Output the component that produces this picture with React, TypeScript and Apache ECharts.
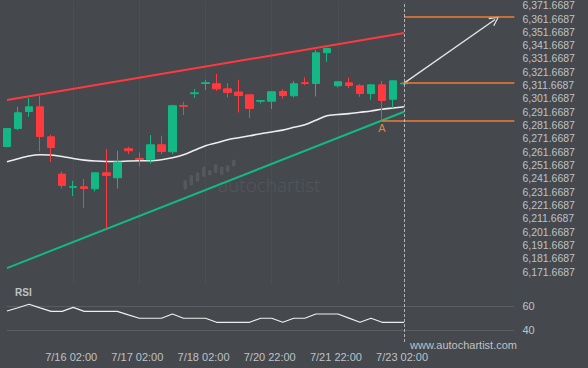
import React, { useEffect, useRef } from 'react';
import * as echarts from 'echarts';

// ---- data ----
const opens = [6265.6, 6279.1, 6291.9, 6295.4, 6272.9, 6244.9, 6235.0, 6235.4, 6233.9, 6245.9, 6242.1, 6263.9, 6256.6, 6255.7, 6266.9, 6261.7, 6296.4, 6305.3, 6312.9, 6312.7, 6308.9, 6306.5, 6304.4, 6299.6, 6299.6, 6306.9, 6303.7, 6313.5, 6312.9, 6336.0, 6311.2, 6313.4, 6311.2, 6305.4, 6311.9, 6301.1, 6312.6];
const closes = [6279.1, 6290.9, 6295.4, 6273.1, 6264.9, 6236.4, 6235.5, 6234.1, 6245.9, 6243.9, 6253.9, 6262.4, 6255.9, 6266.9, 6261.9, 6296.2, 6295.8, 6305.9, 6313.5, 6308.9, 6306.2, 6303.9, 6294.2, 6300.1, 6306.7, 6303.9, 6312.7, 6312.9, 6335.9, 6339.2, 6314.2, 6311.4, 6305.4, 6311.9, 6300.2, 6314.9, 6313.2];
const lows = [6265.0, 6277.9, 6287.9, 6261.9, 6253.9, 6234.1, 6228.4, 6219.4, 6231.9, 6204.1, 6234.1, 6259.9, 6250.6, 6252.9, 6259.9, 6259.9, 6289.2, 6302.0, 6308.0, 6307.4, 6302.4, 6291.2, 6287.0, 6297.9, 6293.7, 6301.7, 6302.4, 6311.7, 6303.2, 6329.2, 6309.9, 6309.5, 6302.9, 6300.7, 6285.6, 6294.5, 6311.9];
const highs = [6279.6, 6295.4, 6302.0, 6303.7, 6274.4, 6246.9, 6239.9, 6241.2, 6245.9, 6263.7, 6262.4, 6265.4, 6261.1, 6274.2, 6273.7, 6296.9, 6299.2, 6308.7, 6315.7, 6320.0, 6313.2, 6315.7, 6304.4, 6300.3, 6306.9, 6308.7, 6314.9, 6317.4, 6338.0, 6339.7, 6314.4, 6317.4, 6312.5, 6312.3, 6314.9, 6315.2, 6313.8];
const maValues = [6254.1, 6256.4, 6258.5, 6259.4, 6259.2, 6258.1, 6256.6, 6255.4, 6254.7, 6254.4, 6254.4, 6254.7, 6254.9, 6254.9, 6255.7, 6257.2, 6259.4, 6262.8, 6266.2, 6268.4, 6270.7, 6272.2, 6273.7, 6275.2, 6276.5, 6277.9, 6280.0, 6281.9, 6285.3, 6288.7, 6289.6, 6290.3, 6291.3, 6292.3, 6293.6, 6294.5, 6295.4];
const rsiValues = [55.9, 58.6, 61.4, 58.4, 55.6, 55.6, 58.9, 55.6, 55.6, 55.6, 55.6, 52.7, 49.9, 49.9, 49.9, 53.4, 49.9, 49.9, 49.9, 46.6, 46.6, 46.6, 46.6, 49.9, 49.9, 46.6, 49.9, 49.9, 53.4, 53.4, 53.4, 50.0, 46.6, 49.9, 46.6, 46.6, 46.6];
const tickIndices = [6, 12, 18, 24, 30, 36];
const tickLabels = ['7/16 02:00', '7/17 02:00', '7/18 02:00', '7/20 22:00', '7/21 22:00', '7/23 02:00'];
const upperTrend = [[0, 6300.45], [36, 6350.73]];
const lowerTrend = [[0, 6174.37], [36, 6291.67]];
const levelA = 6285.0;
const levelCurrent = 6313.2;
const levelTarget = 6362.7;
const pointAIndex = 34;
const lastIndex = 36;
const futureIndex = 46;
const arrowEnd = [44.25, 6361.0];
const rsiLevels = [40, 60];

const BG = '#45484d';
const GREEN = '#13b885';
const RED = '#ff3a3f';
const ORANGE = '#f27b35';
const TEXT = '#bfc2c6';
const FONT = '"Liberation Sans", Arial, sans-serif';

const fmtPrice = (v: number) => {
  const snapped = Math.round((v - 1.6687) / 10) * 10 + 1.6687;
  return snapped.toLocaleString('en-US', { minimumFractionDigits: 4, maximumFractionDigits: 4 });
};

const CHEVRON = 'path://M0,10 L5,0 L10,10 L8.8,10.6 L5,2.6 L1.2,10.6 Z';

export default function App() {
  const ref = useRef<HTMLDivElement>(null);
  useEffect(() => {
    if (!ref.current) return;
    const chart = echarts.init(ref.current, undefined, { renderer: 'svg' });
    const gridLine = 'rgba(255,255,255,0.035)';
    const option: any = {
      animation: false,
      backgroundColor: BG,
      textStyle: { fontFamily: FONT },
      grid: [
        { left: 7, top: 0.8, width: 507.4, height: 284.2, containLabel: false, outerBoundsMode: 'none' },
        { left: 7, top: 293.85, width: 507.4, height: 48.6, containLabel: false, outerBoundsMode: 'none' },
      ],
      xAxis: [
        {
          type: 'value', gridIndex: 0, min: 0, max: futureIndex, interval: 6,
          axisLine: { show: false }, axisTick: { show: false }, axisLabel: { show: false },
          splitLine: { show: true, lineStyle: { width: 1, color: ['transparent', gridLine, gridLine, gridLine, gridLine, gridLine, gridLine, 'transparent', 'transparent'] } },
        },
        {
          type: 'value', gridIndex: 1, min: 0, max: futureIndex, interval: 6,
          axisLine: { show: false }, axisTick: { show: false }, splitLine: { show: false },
          axisLabel: {
            color: TEXT, fontSize: 11, fontFamily: FONT, margin: 9, padding: [0, 4, 0, 0],
            formatter: (v: number) => {
              const k = tickIndices.indexOf(Math.round(v));
              return k >= 0 ? tickLabels[k] : '';
            },
          },
        },
      ],
      yAxis: [
        {
          type: 'value', gridIndex: 0, position: 'right', min: 6161.6687, max: 6374.971, interval: 10,
          axisLine: { show: false }, axisTick: { show: false }, splitLine: { show: false },
          axisLabel: { showMinLabel: false, showMaxLabel: false, margin: 8, color: TEXT, fontSize: 10.5, lineHeight: 11, fontFamily: FONT, padding: [2.4, 0, 0, 0], formatter: fmtPrice },
        },
        {
          type: 'value', gridIndex: 1, position: 'right', min: 30, max: 70, interval: 10,
          axisLine: { show: false }, axisTick: { show: false },
          splitLine: { show: true, lineStyle: { width: 1, color: ['transparent', '#5a5d62', 'transparent', '#5a5d62', 'transparent'] } },
          axisLabel: {
            margin: 8, color: TEXT, fontSize: 11, fontFamily: FONT,
            formatter: (v: number) => (rsiLevels.indexOf(Math.round(v)) >= 0 ? String(Math.round(v)) : ''),
          },
        },
      ],
      series: [
        {
          type: 'line', xAxisIndex: 0, yAxisIndex: 0, data: upperTrend, symbol: 'none', silent: true, z: 2,
          lineStyle: { color: RED, width: 2 },
        },
        {
          type: 'line', xAxisIndex: 0, yAxisIndex: 0, data: lowerTrend, symbol: 'none', silent: true, z: 2,
          lineStyle: { color: GREEN, width: 2 },
        },
        {
          type: 'line', xAxisIndex: 0, yAxisIndex: 0, data: maValues.map((v, i) => [i, v]), symbol: 'none', silent: true, z: 3,
          smooth: 0.3, lineStyle: { color: '#eeeeee', width: 1.6 },
          markLine: {
            silent: true, symbol: ['none', CHEVRON], symbolSize: 10, label: { show: false },
            lineStyle: { color: '#e6e6e6', width: 1.3, type: 'solid' },
            data: [[{ coord: [lastIndex, levelCurrent] }, { coord: arrowEnd }]],
          },
        },
        {
          type: 'candlestick', xAxisIndex: 0, yAxisIndex: 0, silent: true, z: 4, barWidth: 8,
          encode: { x: 0, y: [1, 2, 3, 4] },
          data: opens.map((o, i) => [i, o, closes[i], lows[i], highs[i]]),
          itemStyle: { color: GREEN, color0: RED, borderColor: GREEN, borderColor0: RED, borderWidth: 1 },
          markLine: {
            silent: true, symbol: ['none', 'none'], label: { show: false },
            lineStyle: { color: ORANGE, width: 1.5, type: 'solid' },
            data: [
              [{ coord: [pointAIndex, levelA] }, { coord: [futureIndex, levelA] }],
              [{ coord: [lastIndex, levelCurrent] }, { coord: [futureIndex, levelCurrent] }],
              [{ coord: [lastIndex, levelTarget] }, { coord: [futureIndex, levelTarget] }],
            ],
          },
          markPoint: {
            silent: true, symbol: 'circle', symbolSize: 1, itemStyle: { color: 'transparent' },
            label: { show: true, formatter: 'A', color: '#e0843e', fontSize: 11, fontFamily: FONT, position: 'inside', offset: [0, 7] },
            data: [{ coord: [pointAIndex, levelA] }],
          },
        },
        {
          type: 'line', xAxisIndex: 1, yAxisIndex: 1, data: rsiValues.map((v, i) => [i, v]), symbol: 'none', silent: true,
          lineStyle: { color: '#eeeeee', width: 1.2 },
        },
      ],
    };
    chart.setOption(option);

    const xLast = chart.convertToPixel({ xAxisIndex: 0 }, lastIndex) as number;
    const bars = [
      [183.5, 180, 9.5], [189.5, 175, 10.5], [195.8, 172.3, 9.5], [202, 166.5, 10.5], [208, 170, 5.5],
      [214, 164, 9], [220, 166.5, 8.5], [226, 165, 7], [232, 159.5, 7],
    ];
    chart.setOption({
      graphic: {
        elements: [
          ...bars.map((b, i) => ({
            id: 'wm' + i, type: 'rect', silent: true, z: 1,
            shape: { x: b[0], y: b[1], width: 3.5, height: b[2], r: 1.5 },
            style: { fill: '#55585d' },
          })),
          {
            id: 'wmtext', type: 'text', silent: true, z: 1, x: 218, y: 185,
            style: { text: 'autochartist', fill: '#54575c', font: '200 19px "Open Sans", sans-serif', textAlign: 'left', textVerticalAlign: 'middle', align: 'left', verticalAlign: 'middle' },
          },
          {
            id: 'dash', type: 'line', silent: true, z: 10,
            shape: { x1: Math.round(xLast) + 0.5, y1: 4, x2: Math.round(xLast) + 0.5, y2: 342 },
            style: { stroke: 'rgba(215,215,215,0.75)', lineWidth: 1, lineDash: [3, 2] },
          },
          {
            id: 'rsi', type: 'text', silent: true, x: 15, y: 292,
            style: { text: 'RSI', fill: TEXT, font: 'bold 10px ' + FONT, textAlign: 'left', textVerticalAlign: 'middle', align: 'left', verticalAlign: 'middle' },
          },
          {
            id: 'www', type: 'text', silent: true, x: 410, y: 344.5,
            style: { text: 'www.autochartist.com', fill: TEXT, font: '11px ' + FONT, textAlign: 'left', textVerticalAlign: 'middle', align: 'left', verticalAlign: 'middle' },
          },
        ],
      },
    });
    return () => chart.dispose();
  }, []);
  return <div ref={ref} style={{ position: 'fixed', left: 0, top: 0, width: 588, height: 368 }} />;
}
